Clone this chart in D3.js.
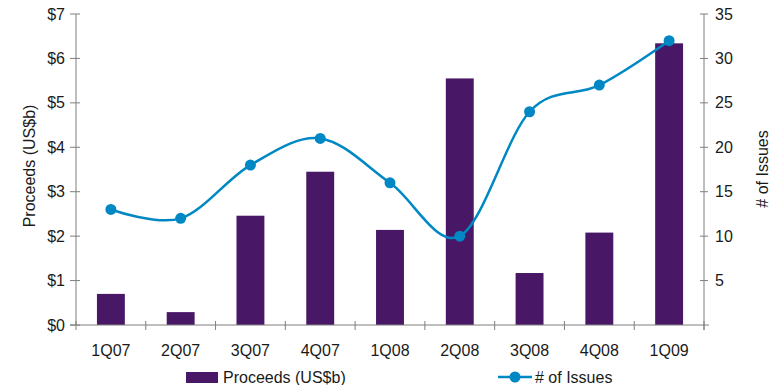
<!DOCTYPE html>
<html>
<head>
<meta charset="utf-8">
<script src="https://cdn.jsdelivr.net/npm/d3@7"></script>
<style>
  html, body { margin: 0; padding: 0; background: #fff; }
  svg { display: block; font-family: "Liberation Sans", Arial, sans-serif; }
</style>
</head>
<body>
<svg id="chart" width="781" height="385"></svg>
<script>
// Quarterly data
const quarters = ["1Q07", "2Q07", "3Q07", "4Q07", "1Q08", "2Q08", "3Q08", "4Q08", "1Q09"];
const proceeds = [0.70, 0.29, 2.46, 3.45, 2.14, 5.55, 1.17, 2.08, 6.34];
const issues = [13, 12, 18, 21, 16, 10, 24, 27, 32];
const leftTicks = [0, 1, 2, 3, 4, 5, 6, 7];
const rightTicks = [5, 10, 15, 20, 25, 30, 35];

const barColor = "#481867";
const lineColor = "#0088C4";
const axisColor = "#7f7f7f";
const textColor = "#1a1a1a";
const fontSize = 16;

const svg = d3.select("#chart");
const plotL = 76, plotR = 704, plotT = 14, plotB = 325;

const x = d3.scaleBand().domain(quarters).range([plotL, plotR]).paddingInner(0.6).paddingOuter(0.3);
const xBand = d3.scaleBand().domain(quarters).range([plotL, plotR]).padding(0);
const yL = d3.scaleLinear().domain([0, 7]).range([plotB, plotT]);
const yR = d3.scaleLinear().domain([0, 35]).range([plotB, plotT]);

// Bars
svg.append("g").selectAll("rect").data(quarters).join("rect")
  .attr("x", d => x(d))
  .attr("width", x.bandwidth())
  .attr("y", (d, i) => yL(proceeds[i]))
  .attr("height", (d, i) => yL(0) - yL(proceeds[i]))
  .attr("fill", barColor);

// Left axis
const gL = svg.append("g");
gL.append("line").attr("x1", plotL).attr("x2", plotL).attr("y1", plotT).attr("y2", plotB)
  .attr("stroke", axisColor).attr("stroke-width", 1);
gL.selectAll("line.t").data(leftTicks).join("line").attr("class", "t")
  .attr("x1", plotL - 6).attr("x2", plotL + 4)
  .attr("y1", d => yL(d)).attr("y2", d => yL(d))
  .attr("stroke", axisColor);
gL.selectAll("text").data(leftTicks).join("text")
  .attr("x", plotL - 11).attr("y", d => yL(d)).attr("dy", "0.35em")
  .attr("text-anchor", "end").attr("font-size", fontSize).attr("fill", textColor)
  .text(d => "$" + d);

// Right axis
const gR = svg.append("g");
gR.append("line").attr("x1", plotR).attr("x2", plotR).attr("y1", plotT).attr("y2", plotB + 5)
  .attr("stroke", axisColor);
gR.selectAll("line.t").data(rightTicks).join("line").attr("class", "t")
  .attr("x1", plotR - 4).attr("x2", plotR + 4)
  .attr("y1", d => yR(d)).attr("y2", d => yR(d))
  .attr("stroke", axisColor);
gR.selectAll("text").data(rightTicks).join("text")
  .attr("x", plotR + 11).attr("y", d => yR(d)).attr("dy", "0.35em")
  .attr("text-anchor", "start").attr("font-size", fontSize).attr("fill", textColor)
  .text(d => d);

// X axis
const gX = svg.append("g");
gX.append("line").attr("x1", plotL - 6).attr("x2", plotR + 5).attr("y1", plotB).attr("y2", plotB)
  .attr("stroke", axisColor);
const bounds = quarters.map(q => xBand(q)).concat([plotR]);
gX.selectAll("line.t").data(bounds).join("line").attr("class", "t")
  .attr("x1", d => d).attr("x2", d => d)
  .attr("y1", plotB - 4).attr("y2", plotB + 5)
  .attr("stroke", axisColor);
gX.selectAll("text").data(quarters).join("text")
  .attr("x", d => xBand(d) + xBand.bandwidth() / 2).attr("y", 356)
  .attr("text-anchor", "middle").attr("font-size", fontSize).attr("fill", textColor)
  .text(d => d);

// Axis titles
svg.append("text")
  .attr("transform", "translate(35,166) rotate(-90)")
  .attr("text-anchor", "middle").attr("font-size", fontSize).attr("fill", textColor)
  .text("Proceeds (US$b)");
svg.append("text")
  .attr("transform", "translate(768,169) rotate(-90)")
  .attr("text-anchor", "middle").attr("font-size", fontSize).attr("fill", textColor)
  .text("# of Issues");

// Issues line
const cx = (d, i) => xBand(quarters[i]) + xBand.bandwidth() / 2;
const line = d3.line().x((d, i) => cx(d, i)).y(d => yR(d)).curve(d3.curveCatmullRom.alpha(0));
svg.append("path").datum(issues).attr("d", line)
  .attr("fill", "none").attr("stroke", lineColor).attr("stroke-width", 2.5);
svg.append("g").selectAll("circle").data(issues).join("circle")
  .attr("cx", cx).attr("cy", d => yR(d)).attr("r", 5.5).attr("fill", lineColor);

// Legend
const lg = svg.append("g");
lg.append("rect").attr("x", 186).attr("y", 372).attr("width", 32).attr("height", 11).attr("fill", barColor);
lg.append("text").attr("x", 223).attr("y", 383).attr("font-size", fontSize).attr("fill", textColor).text("Proceeds (US$b)");
lg.append("line").attr("x1", 498).attr("x2", 532).attr("y1", 377).attr("y2", 377)
  .attr("stroke", lineColor).attr("stroke-width", 2.5);
lg.append("circle").attr("cx", 515).attr("cy", 377).attr("r", 5.5).attr("fill", lineColor);
lg.append("text").attr("x", 535).attr("y", 383).attr("font-size", fontSize).attr("fill", textColor).text("# of Issues");
</script>
</body>
</html>
